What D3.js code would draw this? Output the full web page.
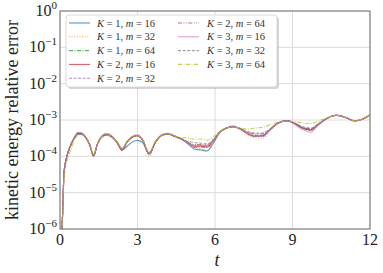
<!DOCTYPE html>
<html><head><meta charset="utf-8">
<script src="https://cdn.jsdelivr.net/npm/d3@7/dist/d3.min.js"></script>
<style>body{margin:0;background:#fff}svg{display:block}</style>
</head><body>
<svg id="c" width="383" height="273"></svg>
<script>
const t = [0,0.12,0.15,0.25,0.4,0.55,0.7,0.85,1.0,1.15,1.3,1.45,1.6,1.8,2.0,2.2,2.4,2.6,2.8,3.0,3.2,3.45,3.7,3.95,4.2,4.45,4.7,4.95,5.2,5.45,5.7,5.95,6.2,6.45,6.7,6.95,7.25,7.55,7.85,8.15,8.45,8.8,9.1,9.4,9.7,10.0,10.35,10.7,11.05,11.4,11.7,12.0];

const k1m16 = [1e-7,6.3e-6,3.2e-5,8.9e-5,1.9e-4,3.1e-4,4.0e-4,4.0e-4,3.2e-4,2.1e-4,1.05e-4,2.2e-4,3.3e-4,3.8e-4,3.4e-4,2.4e-4,1.5e-4,1.9e-4,2.5e-4,2.75e-4,2.4e-4,1.15e-4,2.5e-4,3.8e-4,4.1e-4,3.5e-4,3.0e-4,2.2e-4,1.6e-4,1.5e-4,1.4e-4,2.4e-4,4.7e-4,6.1e-4,6.8e-4,5.8e-4,4.2e-4,3.5e-4,3.6e-4,5.6e-4,8.3e-4,9.6e-4,7.9e-4,6.0e-4,5.4e-4,7.6e-4,1.12e-3,1.35e-3,1.17e-3,9.5e-4,1.05e-3,1.38e-3];
const k1m32 = [1e-7,6.3e-6,3.2e-5,8.9e-5,1.9e-4,3.2e-4,4.3e-4,4.2e-4,3.3e-4,2.1e-4,1.05e-4,2.2e-4,3.4e-4,4.0e-4,3.5e-4,2.5e-4,1.6e-4,2.5e-4,3.4e-4,3.7e-4,2.8e-4,1.0e-4,2.4e-4,3.8e-4,4.1e-4,3.5e-4,3.0e-4,2.4e-4,1.8e-4,1.6e-4,1.45e-4,2.6e-4,4.7e-4,6.0e-4,6.5e-4,5.7e-4,4.0e-4,3.2e-4,3.2e-4,5.4e-4,8.3e-4,9.5e-4,7.9e-4,6.0e-4,5.4e-4,7.6e-4,1.12e-3,1.35e-3,1.17e-3,9.5e-4,1.05e-3,1.38e-3];
const k1m64 = [1e-7,6.3e-6,3.2e-5,8.9e-5,1.9e-4,3.2e-4,4.3e-4,4.2e-4,3.3e-4,2.1e-4,1.1e-4,2.2e-4,3.4e-4,4.0e-4,3.5e-4,2.5e-4,1.6e-4,2.5e-4,3.4e-4,3.7e-4,2.8e-4,1.2e-4,2.5e-4,3.8e-4,4.1e-4,3.5e-4,3.0e-4,2.4e-4,1.75e-4,1.8e-4,1.75e-4,2.8e-4,4.7e-4,6.0e-4,6.5e-4,5.8e-4,4.4e-4,3.8e-4,3.8e-4,5.6e-4,8.3e-4,9.5e-4,7.9e-4,6.0e-4,5.4e-4,7.6e-4,1.12e-3,1.35e-3,1.17e-3,9.5e-4,1.05e-3,1.38e-3];
const k2m16 = [1e-7,6.3e-6,3.2e-5,8.9e-5,1.9e-4,3.2e-4,4.4e-4,4.2e-4,3.3e-4,2.0e-4,1.0e-4,2.2e-4,3.4e-4,4.0e-4,3.5e-4,2.4e-4,1.45e-4,2.5e-4,3.4e-4,3.7e-4,2.8e-4,1.2e-4,2.5e-4,3.8e-4,4.1e-4,3.5e-4,3.0e-4,2.4e-4,1.9e-4,1.9e-4,1.8e-4,2.8e-4,4.7e-4,6.0e-4,6.5e-4,5.8e-4,4.3e-4,3.6e-4,3.7e-4,5.6e-4,8.3e-4,9.5e-4,7.8e-4,5.9e-4,5.2e-4,7.5e-4,1.12e-3,1.35e-3,1.17e-3,9.5e-4,1.05e-3,1.38e-3];
const k2m32 = [1e-7,6.3e-6,3.2e-5,8.9e-5,1.9e-4,3.2e-4,4.5e-4,4.3e-4,3.3e-4,2.1e-4,1.05e-4,2.2e-4,3.5e-4,4.2e-4,3.6e-4,2.5e-4,1.6e-4,2.5e-4,3.4e-4,3.7e-4,2.8e-4,1.2e-4,2.5e-4,3.9e-4,4.2e-4,3.6e-4,3.0e-4,2.4e-4,1.9e-4,2.0e-4,1.9e-4,2.8e-4,4.7e-4,6.0e-4,6.5e-4,5.8e-4,4.4e-4,3.8e-4,3.8e-4,5.6e-4,8.3e-4,9.5e-4,7.9e-4,6.0e-4,5.4e-4,7.6e-4,1.12e-3,1.35e-3,1.17e-3,9.5e-4,1.05e-3,1.38e-3];
const k2m64 = [1e-7,6.3e-6,3.2e-5,8.9e-5,1.9e-4,3.2e-4,4.3e-4,4.2e-4,3.3e-4,2.1e-4,1.05e-4,2.2e-4,3.4e-4,4.0e-4,3.5e-4,2.5e-4,1.6e-4,2.5e-4,3.4e-4,3.7e-4,2.8e-4,1.2e-4,2.5e-4,3.8e-4,4.1e-4,3.5e-4,3.0e-4,2.4e-4,2.1e-4,2.1e-4,2.0e-4,2.9e-4,4.7e-4,6.0e-4,6.5e-4,5.9e-4,4.7e-4,4.2e-4,4.2e-4,5.7e-4,8.3e-4,9.5e-4,8.0e-4,6.3e-4,5.8e-4,7.7e-4,1.12e-3,1.35e-3,1.17e-3,9.5e-4,1.05e-3,1.38e-3];
const k3m16 = [1e-7,6.3e-6,3.2e-5,8.9e-5,1.9e-4,3.3e-4,4.6e-4,4.4e-4,3.4e-4,2.1e-4,1.05e-4,2.3e-4,3.5e-4,4.3e-4,3.7e-4,2.5e-4,1.6e-4,2.6e-4,3.6e-4,3.9e-4,2.9e-4,1.2e-4,2.6e-4,4.0e-4,4.3e-4,3.6e-4,3.0e-4,2.4e-4,2.0e-4,2.0e-4,2.0e-4,2.8e-4,4.7e-4,6.0e-4,6.5e-4,5.8e-4,4.3e-4,3.6e-4,3.5e-4,5.5e-4,8.3e-4,9.5e-4,7.4e-4,5.4e-4,4.6e-4,7.2e-4,1.12e-3,1.36e-3,1.18e-3,9.5e-4,1.05e-3,1.38e-3];
const k3m32 = [1e-7,6.3e-6,3.2e-5,8.9e-5,1.9e-4,3.2e-4,4.3e-4,4.2e-4,3.3e-4,2.1e-4,1.05e-4,2.2e-4,3.4e-4,4.0e-4,3.5e-4,2.5e-4,1.6e-4,2.5e-4,3.4e-4,3.7e-4,2.8e-4,1.2e-4,2.5e-4,3.8e-4,4.1e-4,3.5e-4,3.0e-4,2.6e-4,2.4e-4,2.3e-4,2.2e-4,3.0e-4,4.7e-4,6.0e-4,6.5e-4,5.9e-4,4.8e-4,4.4e-4,4.4e-4,5.8e-4,8.3e-4,9.5e-4,8.1e-4,6.5e-4,6.0e-4,7.8e-4,1.12e-3,1.35e-3,1.17e-3,9.5e-4,1.05e-3,1.38e-3];
const k3m64 = [1e-7,4.0e-6,2.2e-5,6.5e-5,1.4e-4,2.75e-4,3.8e-4,3.9e-4,3.2e-4,2.2e-4,1.2e-4,2.2e-4,3.3e-4,3.9e-4,3.5e-4,2.6e-4,1.7e-4,2.6e-4,3.5e-4,3.7e-4,2.9e-4,1.35e-4,2.6e-4,3.8e-4,4.1e-4,3.6e-4,3.3e-4,3.2e-4,3.0e-4,3.0e-4,2.8e-4,3.5e-4,5.0e-4,6.0e-4,6.4e-4,6.0e-4,5.6e-4,6.0e-4,6.3e-4,7.5e-4,8.8e-4,9.3e-4,8.9e-4,8.3e-4,8.0e-4,9.3e-4,1.15e-3,1.33e-3,1.17e-3,9.6e-4,1.05e-3,1.36e-3];

const seriesNames = [["1","16"],["1","32"],["1","64"],["2","16"],["2","32"],["2","64"],["3","16"],["3","32"],["3","64"]];
const seriesValues = [k1m16,k1m32,k1m64,k2m16,k2m32,k2m64,k3m16,k3m32,k3m64];
const xTicks = [0,3,6,9,12];
const yExponents = [0,-1,-2,-3,-4,-5,-6];

const colors = ["#1f77b4","#ff7f0e","#2ca02c","#d62728","#9467bd","#8c564b","#e377c2","#7f7f7f","#bcbd22"];
const dashes = [null,"1,1.6","4,1.5,1,1.5",null,"3,1.6","4,1.4,1,1.4,1,1.4",null,"3,1.6","4,1.5,1,1.5"];

const svg = d3.select("#c");
const L=60, R=370, T=11, B=229;
const x = d3.scaleLinear().domain([0,12]).range([L,R]);
const y = d3.scaleLog().domain([1e-6,1]).range([B,T]);
const serif = "'Liberation Serif','DejaVu Serif',serif";

// grid
const g = svg.append("g");
g.selectAll(".gx").data(xTicks).enter().append("line")
 .attr("x1",d=>x(d)).attr("x2",d=>x(d)).attr("y1",T).attr("y2",B)
 .attr("stroke","#dcdcdc").attr("stroke-width",1);
g.selectAll(".gy").data(yExponents).enter().append("line")
 .attr("x1",L).attr("x2",R).attr("y1",d=>y(Math.pow(10,d))).attr("y2",d=>y(Math.pow(10,d)))
 .attr("stroke","#dcdcdc").attr("stroke-width",1);

svg.append("clipPath").attr("id","clip").append("rect").attr("x",L).attr("y",T).attr("width",R-L).attr("height",B-T);

const line = d3.line().x((d,i)=>x(t[i])).y(d=>y(d)).curve(d3.curveMonotoneX);
const lines = svg.append("g").attr("clip-path","url(#clip)");
seriesValues.forEach((vals,i)=>{
  lines.append("path").attr("d",line(vals)).attr("fill","none")
   .attr("stroke",colors[i]).attr("stroke-width",1.1).attr("stroke-opacity",0.75)
   .attr("stroke-dasharray",dashes[i]);
});

// frame
svg.append("rect").attr("x",L).attr("y",T).attr("width",R-L).attr("height",B-T)
 .attr("fill","none").attr("stroke","#707070").attr("stroke-width",1);

// x tick labels
svg.selectAll(".xt").data(xTicks).enter().append("text")
 .attr("x",d=>x(d)).attr("y",245).attr("text-anchor","middle")
 .attr("font-family",serif).attr("font-size",16).attr("fill","#222").text(d=>d);
// y tick labels
const yt = svg.selectAll(".yt").data(yExponents).enter().append("text")
 .attr("x",57).attr("y",d=>y(Math.pow(10,d))+5).attr("text-anchor","end")
 .attr("font-family",serif).attr("fill","#222");
yt.append("tspan").attr("font-size",16).text("10");
yt.append("tspan").attr("font-size",11).attr("dy",-7).text(d=>d===0?"0":"\u2212"+(-d));

// axis labels
svg.append("text").attr("x",217).attr("y",266).attr("text-anchor","middle")
 .attr("font-family",serif).attr("font-style","italic").attr("font-size",18).attr("fill","#222").text("t");
svg.append("text").attr("transform","translate(18,120) rotate(-90)").attr("text-anchor","middle")
 .attr("font-family",serif).attr("font-size",18).attr("fill","#222").text("kinetic energy relative error");

// legend
const lg = svg.append("g");
lg.append("rect").attr("x",68).attr("y",17).attr("width",211).attr("height",72).attr("rx",3)
 .attr("fill","#bbb").attr("opacity",0.6);
lg.append("rect").attr("x",66).attr("y",15).attr("width",211).attr("height",72).attr("rx",3)
 .attr("fill","#fff").attr("stroke","#d0d0d0").attr("stroke-width",0.8);
seriesNames.forEach((nm,i)=>{
  const col = i<5?0:1, row = i<5?i:i-5;
  const hx = col===0?69:178, tx = col===0?97:207, ry = 23+row*13.8;
  lg.append("line").attr("x1",hx).attr("x2",hx+21).attr("y1",ry).attr("y2",ry)
   .attr("stroke",colors[i]).attr("stroke-width",1.1).attr("stroke-opacity",0.75)
   .attr("stroke-dasharray",dashes[i]);
  const tt = lg.append("text").attr("x",tx).attr("y",ry+3.5)
   .attr("font-family",serif).attr("font-size",10.5).attr("fill","#333");
  tt.append("tspan").attr("font-style","italic").text("K");
  tt.append("tspan").text(" = "+nm[0]+", ");
  tt.append("tspan").attr("font-style","italic").text("m");
  tt.append("tspan").text(" = "+nm[1]);
});
</script>
</body></html>
